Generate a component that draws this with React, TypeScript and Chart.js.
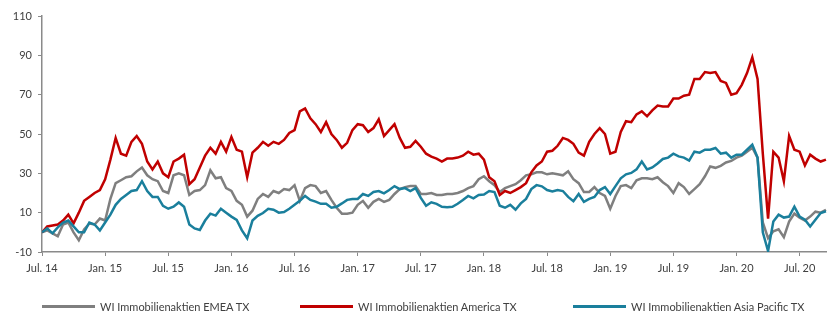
import React, { useEffect, useRef } from "react";
import { Chart, registerables } from "chart.js";

Chart.register(...registerables);

// Half-year tick labels (one every 6 months, starting Jul. 2014)
const tickLabels = [
  "Jul. 14", "Jan. 15", "Jul. 15", "Jan. 16", "Jul. 16", "Jan. 17", "Jul. 17",
  "Jan. 18", "Jul. 18", "Jan. 19", "Jul. 19", "Jan. 20", "Jul. 20",
];

// Semi-monthly observations (index i = i/2 months after Jul. 2014), in %
const emea = [
  0, 1, -0.5, -2, 4, 5, 0, -4, 1.5, 4.5, 4, 7,
  6, 17, 25, 26.5, 28, 28.5, 31, 33, 29, 27, 26, 21,
  20, 29, 30, 29, 19, 21, 21.5, 24, 31.5, 27.5, 28, 22.5,
  21, 16, 14, 8, 11, 17, 19.5, 18, 21, 20, 22, 21.5,
  24, 16, 22.5, 24, 23.5, 20, 21, 16.5, 12.5, 9.5, 9.5, 10,
  14, 16, 12.5, 15.5, 17, 15.5, 16.5, 19.5, 22, 23, 23.5, 23.5,
  19.5, 19.5, 20, 19, 19, 19.5, 19.5, 20, 21, 22.5, 23.5, 27,
  28.5, 26, 24, 20.5, 22.5, 23.5, 24.5, 26.5, 29, 29.5, 30.5, 30.5,
  29.5, 30, 29.5, 29, 31, 27, 25, 20.5, 20.5, 23, 20, 18.5,
  12, 18.5, 23.5, 24, 22.5, 26.5, 27.5, 27.5, 27, 28, 25.5, 23.5,
  20, 25, 23, 19.5, 22, 24.5, 28.5, 33.5, 32.8, 33.8, 35.5, 36.3,
  38, 39, 41, 43, 38, 5, -3, 0.5, 1.5, -2.5, 5.5, 9.5,
  7.5, 6, 8, 10.5, 10, 11.5,
];

const america = [
  0, 3, 3.5, 4, 6, 9, 4.6, 10, 16, 18, 20, 21.5,
  27, 37, 48, 40, 39, 46, 49, 45, 36, 32, 36, 30,
  28, 36, 37.5, 39.5, 24.5, 27, 33, 39, 43, 40, 46, 41,
  48.5, 42, 41, 28, 40.5, 43, 46, 44, 46, 45, 47, 50.5,
  52, 61.5, 63, 58, 55, 51, 56, 50, 47, 43, 45.5, 52,
  55, 54.5, 51, 53, 57.5, 49, 52, 55, 48, 43, 43.5, 46.5,
  43.5, 40, 38.5, 37.5, 36, 37.5, 37.5, 38, 39, 41, 39.5, 40,
  37, 28, 26, 19, 21, 20, 21.5, 23, 25, 30.5, 34, 36,
  41, 41.5, 44, 48, 47, 45, 40.5, 39, 46, 50, 53, 50,
  40, 41, 51, 56.5, 56, 60, 61.5, 59, 62, 64.5, 64, 64,
  68, 68, 69.5, 70, 78, 78, 81.5, 81, 81.5, 77, 76, 70,
  70.8, 75, 81, 89, 78, 40, 7, 41, 38, 26, 49, 42,
  41, 34, 39.5, 37.5, 36, 37,
];

const asiaPacific = [
  0, 2, -0.5, 2.5, 5, 6, 3, 0, 0, 5, 4, 1,
  5, 9, 14, 17, 19, 21, 21.5, 26, 21, 18, 18, 13.5,
  12, 13, 15.2, 13, 4, 2, 1.2, 6, 9.5, 8.5, 12, 10,
  8, 6.3, 1, -3, 6, 8.4, 9.8, 12, 11.5, 10, 10.3, 12,
  14, 16, 18.5, 16.5, 15.6, 14.5, 14.5, 12.5, 13, 14.7, 16.5, 17,
  17, 19.5, 18.5, 20.5, 21, 19.8, 21.5, 23.5, 22, 22.5, 21, 22.5,
  17.5, 13.5, 15.3, 14.5, 13, 12.8, 13, 14.5, 16.4, 18.5, 17.3, 19,
  19.2, 21, 20.5, 13.5, 12.5, 14, 11.5, 14.7, 17, 22, 24, 23.4,
  21.5, 20.8, 21.5, 21, 18, 15.8, 19.5, 15.5, 17, 18, 21.5, 23,
  19.5, 23.5, 27.5, 29.5, 30.2, 32, 36, 32, 33, 35, 37.3, 38,
  40, 38.6, 38, 36.5, 41, 40.5, 42, 42, 42.9, 40, 40.5, 38,
  39.5, 39.5, 42, 44.6, 38, 0, -9.5, 5.5, 9, 7.5, 8, 13,
  8, 6.4, 3, 6.4, 9.8, 10.7,
];

const seriesNames = [
  "WI Immobilienaktien EMEA TX",
  "WI Immobilienaktien America TX",
  "WI Immobilienaktien Asia Pacific TX",
];
const seriesColors = ["#7f7f7f", "#c00000", "#1a7f9c"];

const FONT = "Lato, 'Open Sans', sans-serif";
const TEXT_COLOR = "#404040";
const AXIS_COLOR = "#8a8a8a";

export default function App() {
  const canvasRef = useRef<HTMLCanvasElement | null>(null);

  useEffect(() => {
    const canvas = canvasRef.current;
    if (!canvas) return;
    const toPoints = (arr: number[]) => arr.map((v, i) => ({ x: i / 2, y: v }));
    const seriesData = [emea, america, asiaPacific];

    const chart = new Chart(canvas, {
      type: "line",
      data: {
        datasets: seriesData.map((arr, idx) => ({
          label: seriesNames[idx],
          data: toPoints(arr),
          borderColor: seriesColors[idx],
          backgroundColor: seriesColors[idx],
          borderWidth: 2.5,
          pointRadius: 0,
          tension: 0,
          fill: false,
          order: 3 - idx,
        })),
      },
      options: {
        animation: false,
        responsive: false,
        maintainAspectRatio: false,
        layout: { padding: { top: 16, left: 0, right: 0, bottom: 0 } },
        plugins: {
          legend: { display: false },
          tooltip: { enabled: false },
          title: { display: false },
        },
        scales: {
          x: {
            type: "linear",
            min: 0,
            max: 74.6,
            afterFit: (scale: any) => {
              scale.height = 59;
            },
            grid: {
              drawOnChartArea: false,
              drawTicks: true,
              tickLength: 4,
              color: AXIS_COLOR,
              lineWidth: 1,
            },
            border: { display: true, color: AXIS_COLOR, width: 1.5 },
            ticks: {
              stepSize: 6,
              includeBounds: false,
              autoSkip: false,
              maxRotation: 0,
              minRotation: 0,
              padding: 6,
              color: TEXT_COLOR,
              font: { family: FONT, size: 11 },
              callback: (value: any) => {
                const idx = Math.round(Number(value) / 6);
                return tickLabels[idx] ?? "";
              },
            },
          },
          y: {
            min: -10,
            max: 110,
            afterFit: (scale: any) => {
              scale.width = 42;
            },
            grid: {
              drawOnChartArea: false,
              drawTicks: true,
              tickLength: 4,
              color: AXIS_COLOR,
              lineWidth: 1,
            },
            border: { display: true, color: AXIS_COLOR, width: 1.5 },
            ticks: {
              stepSize: 20,
              padding: 6,
              color: TEXT_COLOR,
              font: { family: FONT, size: 11 },
            },
          },
        },
      },
    });
    return () => chart.destroy();
  }, []);

  const legendLefts = [42, 300, 573];

  return (
    <div
      style={{
        position: "absolute",
        left: 0,
        top: 0,
        width: 827,
        height: 311,
        overflow: "hidden",
        background: "#ffffff",
      }}
    >
      <canvas ref={canvasRef} width={827} height={311} style={{ display: "block" }} />
      {seriesNames.map((name, i) => (
        <div
          key={name}
          style={{
            position: "absolute",
            left: legendLefts[i],
            top: 300,
            display: "flex",
            alignItems: "center",
            whiteSpace: "nowrap",
            fontFamily: FONT,
            fontSize: 11,
            lineHeight: "13px",
            color: TEXT_COLOR,
          }}
        >
          <span
            style={{
              display: "inline-block",
              width: 53,
              height: 3,
              background: seriesColors[i],
              marginRight: 5,
            }}
          />
          <span>{name}</span>
        </div>
      ))}
    </div>
  );
}
